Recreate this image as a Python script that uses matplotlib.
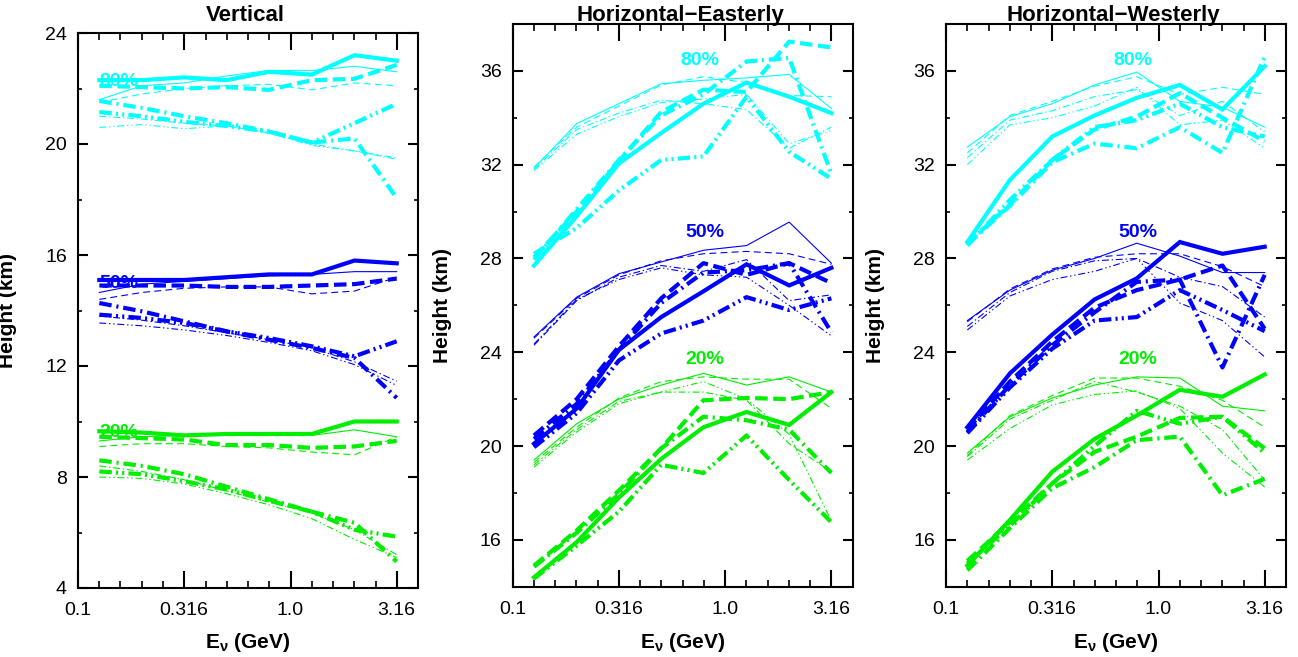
import matplotlib
matplotlib.use("Agg")
import matplotlib.pyplot as plt
from matplotlib.ticker import FixedLocator, NullFormatter

plt.rcParams['font.family'] = ['Liberation Sans', 'DejaVu Sans']
plt.rcParams['mathtext.fontset'] = 'custom'
plt.rcParams['mathtext.rm'] = 'Liberation Sans:bold'
plt.rcParams['mathtext.it'] = 'Liberation Sans:bold'
plt.rcParams['mathtext.bf'] = 'Liberation Sans:bold'
plt.rcParams['lines.scale_dashes'] = False

# ---------------- data ----------------
E_GEV = [0.126, 0.2, 0.316, 0.5, 0.79, 1.26, 2.0, 3.16]
STYLES = ['thick solid', 'thick dashed', 'thick dashdot', 'thick dashdotdot',
          'thin solid', 'thin dashed', 'thin dashdot', 'thin dashdotdot']

# Vertical
VERT_80 = [
    [22.3, 22.3, 22.4, 22.3, 22.6, 22.5, 23.2, 23.0],
    [22.1, 22.05, 22.0, 22.05, 21.95, 22.3, 22.35, 22.85],
    [21.55, 21.3, 21.0, 20.75, 20.45, 20.05, 20.2, 18.05],
    [21.15, 21.0, 20.8, 20.65, 20.45, 20.05, 20.75, 21.45],
    [21.6, 22.1, 22.2, 22.45, 22.65, 22.65, 22.8, 22.6],
    [21.5, 21.8, 22.0, 22.1, 22.15, 21.95, 22.2, 22.1],
    [21.0, 20.9, 20.75, 20.65, 20.4, 20.0, 19.75, 19.45],
    [20.6, 20.7, 20.55, 20.65, 20.4, 19.95, 19.75, 19.5],
]
VERT_50 = [
    [15.1, 15.1, 15.1, 15.2, 15.3, 15.3, 15.8, 15.7],
    [14.9, 14.9, 14.9, 14.85, 14.85, 14.9, 14.95, 15.15],
    [14.27, 13.97, 13.61, 13.25, 12.95, 12.65, 12.29, 10.85],
    [13.85, 13.73, 13.55, 13.25, 13.01, 12.71, 12.35, 12.89],
    [14.65, 14.95, 15.05, 15.15, 15.25, 15.3, 15.4, 15.4],
    [14.4, 14.65, 14.8, 14.85, 14.85, 14.6, 14.7, 15.2],
    [13.8, 13.65, 13.45, 13.2, 12.95, 12.65, 12.15, 11.45],
    [13.55, 13.45, 13.3, 13.1, 12.85, 12.55, 12.05, 11.3],
]
VERT_20 = [
    [9.65, 9.6, 9.5, 9.55, 9.55, 9.55, 10.0, 10.0],
    [9.45, 9.4, 9.35, 9.15, 9.15, 9.05, 9.1, 9.3],
    [8.6, 8.4, 8.1, 7.65, 7.2, 6.75, 6.35, 4.95],
    [8.2, 8.1, 7.85, 7.55, 7.15, 6.75, 6.1, 5.85],
    [9.3, 9.45, 9.5, 9.5, 9.5, 9.5, 9.7, 9.45],
    [9.1, 9.2, 9.2, 9.1, 9.05, 8.9, 8.8, 9.45],
    [8.4, 8.2, 7.9, 7.5, 7.1, 6.7, 6.1, 5.2],
    [8.0, 7.95, 7.75, 7.4, 7.0, 6.5, 5.75, 5.1],
]

# Horizontal-Easterly
EAST_80 = [
    [27.7, 29.8, 32.05, 33.35, 34.6, 35.5, 34.9, 34.2],
    [28.05, 30.0, 32.15, 34.25, 35.2, 35.1, 37.25, 37.0],
    [27.95, 30.1, 32.2, 34.1, 35.0, 36.4, 36.55, 31.6],
    [28.2, 29.3, 30.9, 32.2, 32.35, 34.9, 32.55, 31.4],
    [31.85, 33.75, 34.6, 35.45, 35.6, 35.7, 35.85, 34.4],
    [31.9, 33.6, 34.5, 35.4, 35.75, 35.5, 34.95, 34.9],
    [31.8, 33.5, 34.2, 34.75, 34.6, 34.35, 32.7, 33.6],
    [31.75, 33.3, 34.05, 34.65, 34.8, 35.0, 32.9, 33.45],
]
EAST_50 = [
    [20.1, 21.6, 24.1, 25.5, 26.6, 27.75, 26.85, 27.6],
    [20.45, 22.0, 24.25, 26.3, 27.8, 27.3, 27.8, 26.95],
    [20.3, 21.8, 24.1, 26.1, 27.4, 27.5, 27.8, 24.85],
    [19.95, 21.4, 23.65, 24.8, 25.35, 26.35, 25.8, 26.3],
    [24.65, 26.35, 27.35, 27.85, 28.35, 28.55, 29.55, 27.8],
    [24.6, 26.3, 27.3, 27.9, 28.2, 28.3, 28.2, 27.75],
    [24.3, 26.2, 27.2, 27.7, 27.45, 27.95, 26.2, 26.45],
    [24.35, 26.25, 27.1, 27.6, 27.3, 27.2, 26.0, 24.7],
]
EAST_20 = [
    [14.4, 15.9, 17.8, 19.45, 20.8, 21.45, 20.9, 22.3],
    [14.9, 16.4, 18.1, 19.9, 21.95, 22.05, 22.0, 22.3],
    [14.85, 16.3, 17.95, 19.9, 21.25, 21.1, 20.7, 18.85],
    [14.35, 15.75, 17.2, 19.2, 18.85, 20.45, 18.55, 16.75],
    [19.4, 20.95, 22.0, 22.6, 23.1, 22.6, 22.95, 22.3],
    [19.3, 20.8, 22.05, 22.75, 22.95, 22.85, 22.85, 21.6],
    [19.2, 20.7, 21.9, 22.3, 22.3, 21.95, 20.1, 18.9],
    [19.1, 20.6, 21.8, 22.3, 22.75, 22.0, 20.5, 16.8],
]

# Horizontal-Westerly
WEST_80 = [
    [28.7, 31.35, 33.2, 34.1, 34.85, 35.4, 34.35, 36.2],
    [28.65, 30.3, 32.2, 33.5, 34.05, 35.05, 34.0, 33.0],
    [28.6, 30.25, 32.1, 32.9, 32.7, 33.6, 32.5, 36.6],
    [28.55, 30.5, 32.2, 33.6, 33.9, 34.6, 33.6, 33.2],
    [32.75, 34.05, 34.6, 35.4, 35.95, 34.7, 34.45, 33.6],
    [32.5, 34.1, 34.7, 35.35, 35.75, 35.0, 35.3, 35.0],
    [32.3, 33.9, 34.3, 34.9, 35.2, 34.1, 34.7, 33.4],
    [32.0, 33.7, 34.0, 34.5, 35.3, 33.7, 33.9, 32.7],
]
WEST_50 = [
    [20.8, 23.1, 24.75, 26.25, 27.15, 28.7, 28.2, 28.5],
    [20.7, 22.75, 24.45, 25.9, 26.65, 27.1, 27.7, 25.0],
    [20.6, 22.6, 24.3, 25.7, 27.0, 27.1, 23.35, 27.3],
    [20.55, 22.5, 24.15, 25.35, 25.5, 26.65, 25.8, 24.9],
    [25.35, 26.65, 27.5, 28.0, 28.65, 28.1, 27.4, 27.4],
    [25.3, 26.7, 27.55, 28.05, 28.2, 28.2, 27.65, 26.8],
    [25.1, 26.55, 27.45, 27.9, 28.0, 27.2, 26.8, 25.5],
    [24.95, 26.4, 27.1, 27.45, 28.0, 26.1, 25.35, 23.8],
]
WEST_20 = [
    [14.9, 16.85, 18.9, 20.3, 21.3, 22.4, 22.1, 23.05],
    [15.1, 16.75, 18.4, 19.75, 20.4, 21.2, 21.25, 19.9],
    [14.7, 16.5, 18.2, 19.1, 20.25, 20.4, 17.9, 18.6],
    [15.0, 16.6, 18.4, 20.0, 21.5, 20.95, 21.25, 19.7],
    [19.7, 21.25, 22.05, 22.6, 22.95, 22.9, 21.7, 21.5],
    [19.6, 21.3, 22.15, 22.9, 22.9, 22.55, 21.95, 20.8],
    [19.55, 21.15, 21.95, 22.75, 22.3, 21.7, 20.7, 18.55],
    [19.4, 20.75, 21.75, 22.2, 22.35, 21.6, 19.7, 18.25],
]

PANEL_TITLES = ['Vertical', 'Horizontal\u2212Easterly', 'Horizontal\u2212Westerly']
GROUP_LABELS = ['80%', '50%', '20%']
GROUP_COLORS = ['#00ffff', '#0000ff', '#00ee00']
PANEL_DATA = [[VERT_80, VERT_50, VERT_20],
              [EAST_80, EAST_50, EAST_20],
              [WEST_80, WEST_50, WEST_20]]
# label anchor positions (E, height) per panel/group
LABEL_POS = [[(0.126, 22.26), (0.126, 14.99), (0.126, 9.59)],
             [(0.76, 36.46), (0.80, 29.11), (0.80, 23.67)],
             [(0.76, 36.46), (0.80, 29.11), (0.80, 23.67)]]
YLIMS = [(4, 24), (14, 38), (14, 38)]
YMAJOR = [[4, 8, 12, 16, 20, 24], [16, 20, 24, 28, 32, 36], [16, 20, 24, 28, 32, 36]]
YMINOR = [[6, 10, 14, 18, 22], [14, 18, 22, 26, 30, 34, 38], [14, 18, 22, 26, 30, 34, 38]]
XMAJOR = [0.1, 0.316, 1.0, 3.16]
XMAJOR_LABELS = ['0.1', '0.316', '1.0', '3.16']

# ---------------- styling ----------------
def linestyle(style):
    w, kind = style.split()
    thick = (w == 'thick')
    if kind == 'solid':
        ls = '-'
    elif kind == 'dashed':
        ls = (0, (9, 4)) if thick else (0, (5, 3))
    elif kind == 'dashdot':
        ls = (0, (9, 3.5, 1.5, 3.5)) if thick else (0, (5, 2, 1, 2))
    else:
        ls = (0, (9, 3, 1.5, 3, 1.5, 3)) if thick else (0, (5, 2, 1, 2, 1, 2))
    return ls, (3.0 if thick else 0.8)

W, H = 1298, 657
fig = plt.figure(figsize=(W / 100, H / 100), dpi=100)
axes_px = [(78, 33, 418, 588), (512.7, 24, 852.7, 586.7), (946, 24, 1286, 586.7)]

for p in range(3):
    x0, y0, x1, y1 = axes_px[p]
    ax = fig.add_axes([x0 / W, 1 - y1 / H, (x1 - x0) / W, (y1 - y0) / H])
    ax.set_xscale('log')
    for g in range(3):
        color = GROUP_COLORS[g]
        lines = PANEL_DATA[p][g]
        order = [4, 5, 6, 7, 0, 1, 2, 3]
        for i in order:
            ls, lw = linestyle(STYLES[i])
            ax.plot(E_GEV, lines[i], color=color, lw=lw, linestyle=ls,
                    solid_joinstyle='miter', dash_capstyle='butt')
        lx, ly = LABEL_POS[p][g]
        ax.text(lx, ly, GROUP_LABELS[g], color=color, fontsize=14, fontweight='bold',
                ha='left' if p == 0 else 'center', va='center')
    ax.set_xlim(0.1, 10 ** 0.6)
    ax.set_ylim(*YLIMS[p])
    ax.xaxis.set_major_locator(FixedLocator(XMAJOR))
    ax.set_xticklabels(XMAJOR_LABELS)
    minors = [10 ** (k / 10) for k in range(-9, 6) if k not in (-5, 0, 5)]
    ax.xaxis.set_minor_locator(FixedLocator(minors))
    ax.xaxis.set_minor_formatter(NullFormatter())
    ax.yaxis.set_major_locator(FixedLocator(YMAJOR[p]))
    ax.yaxis.set_minor_locator(FixedLocator(YMINOR[p]))
    ax.tick_params(axis='x', which='major', direction='in', length=12, width=1.5,
                   top=True, bottom=True, labelsize=14, pad=10)
    ax.tick_params(axis='x', which='minor', direction='in', length=5, width=1.2,
                   top=True, bottom=True)
    ax.tick_params(axis='y', which='major', direction='in', length=7.5, width=1.5,
                   left=True, right=True, labelsize=14, pad=8)
    ax.tick_params(axis='y', which='minor', direction='in', length=3, width=1.2,
                   left=True, right=True)
    for s in ax.spines.values():
        s.set_linewidth(1.5)
    ax.set_ylabel('Height (km)', fontsize=15, fontweight='bold')
    ax.yaxis.set_label_coords(-61 / (x1 - x0), 0.5)
    ax.set_xlabel(r'E$_{\nu}$ (GeV)', fontsize=15, fontweight='bold')
    ax.xaxis.label.set_va('baseline')
    ax.xaxis.set_label_coords(0.5, -(648 - y1) / (y1 - y0))
    fig.text((x0 + x1) / 2 / W - 0.002, 1 - 21 / H, PANEL_TITLES[p], fontsize=16,
             fontweight='bold', ha='center', va='baseline')

fig.savefig('out.png', dpi=100)
